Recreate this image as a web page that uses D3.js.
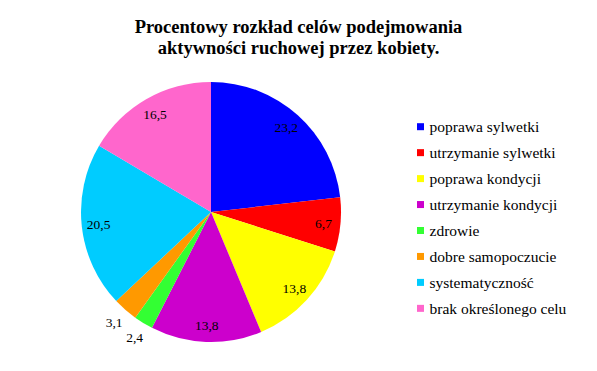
<!DOCTYPE html>
<html>
<head>
<meta charset="utf-8">
<script src="https://cdn.jsdelivr.net/npm/d3@7"></script>
<style>
  body { margin: 0; background: #fff; }
  text { font-family: "Liberation Serif", "Times New Roman", serif; }
</style>
</head>
<body>
<div id="chart"></div>
<script>
var categories = ["poprawa sylwetki", "utrzymanie sylwetki", "poprawa kondycji",
  "utrzymanie kondycji", "zdrowie", "dobre samopoczucie", "systematyczność",
  "brak określonego celu"];
var values = [23.2, 6.7, 13.8, 13.8, 2.4, 3.1, 20.5, 16.5];
var colors = ["#0000ff", "#ff0000", "#ffff00", "#cc00cc", "#33ff33", "#ff9900", "#00ccff", "#ff66cc"];
var titleLines = ["Procentowy rozkład celów podejmowania", "aktywności ruchowej przez kobiety."];

var width = 597, height = 371;
var cx = 211, cy = 212, radius = 130;

var svg = d3.select("#chart").append("svg")
  .attr("width", width)
  .attr("height", height);

// title
svg.append("g").selectAll("text")
  .data(titleLines)
  .enter().append("text")
  .attr("x", 298.5)
  .attr("y", function(d, i) { return 33 + i * 20.5; })
  .attr("text-anchor", "middle")
  .style("font-size", "18.5px")
  .style("font-weight", "bold")
  .text(function(d) { return d; });

var data = values.map(function(v, i) { return {name: categories[i], value: v, color: colors[i]}; });

var pie = d3.pie()
  .sort(null)
  .value(function(d) { return d.value; });

var arc = d3.arc().innerRadius(0).outerRadius(radius);
var labelArc = d3.arc().innerRadius(113).outerRadius(113);
var outerLabelArc = d3.arc().innerRadius(147).outerRadius(147);

var g = svg.append("g")
  .attr("transform", "translate(" + cx + "," + cy + ")");

var arcs = pie(data);

g.selectAll("path")
  .data(arcs)
  .enter().append("path")
  .attr("d", arc)
  .attr("fill", function(d) { return d.data.color; });

g.selectAll("text.lbl")
  .data(arcs)
  .enter().append("text")
  .attr("class", "lbl")
  .attr("transform", function(d) {
    var c = d.data.value < 5 ? outerLabelArc.centroid(d) : labelArc.centroid(d);
    return "translate(" + c + ")";
  })
  .attr("dy", "0.35em")
  .attr("text-anchor", "middle")
  .style("font-size", "13.5px")
  .text(function(d) { return String(d.data.value).replace(".", ","); });

// legend
var legend = svg.append("g")
  .attr("transform", "translate(417,126.7)");

var rows = legend.selectAll("g")
  .data(data)
  .enter().append("g")
  .attr("transform", function(d, i) { return "translate(0," + (i * 25.95) + ")"; });

rows.append("rect")
  .attr("x", 0)
  .attr("y", -3.5)
  .attr("width", 7)
  .attr("height", 7)
  .attr("fill", function(d) { return d.color; });

rows.append("text")
  .attr("x", 12.5)
  .attr("dy", "0.35em")
  .style("font-size", "15.5px")
  .text(function(d) { return d.name; });
</script>
</body>
</html>
